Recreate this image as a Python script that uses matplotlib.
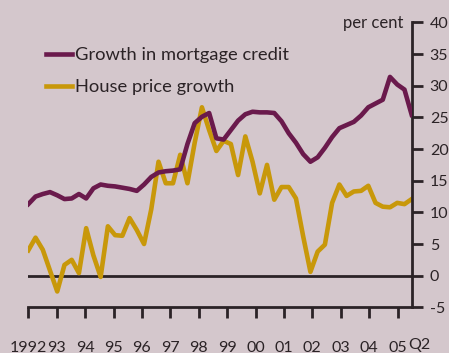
import matplotlib
matplotlib.use('Agg')
import matplotlib.pyplot as plt
import numpy as np

plt.rcParams['font.family'] = ['Lato', 'DejaVu Sans']
plt.rcParams['axes.unicode_minus'] = False

# quarterly, 1992 Q1 to 2005 Q2, per cent
mortgage_credit = [11.3, 12.5, 12.9, 13.2, 12.7, 12.1, 12.2, 12.9, 12.2, 13.8,
                   14.4, 14.2, 14.1, 13.9, 13.7, 13.4, 14.4, 15.6, 16.3, 16.5,
                   16.6, 16.8, 20.8, 24.1, 25.1, 25.7, 21.7, 21.5, 23.0, 24.5,
                   25.5, 25.9, 25.8, 25.8, 25.7, 24.4, 22.5, 21.0, 19.2, 18.0,
                   18.7, 20.2, 21.9, 23.3, 23.8, 24.3, 25.3, 26.6, 27.2, 27.8,
                   31.4, 30.2, 29.4, 25.4]
house_price = [4.0, 6.0, 4.1, 0.8, -2.5, 1.7, 2.5, 0.4, 7.5, 3.2,
               -0.2, 7.8, 6.4, 6.3, 9.1, 7.2, 5.0, 10.5, 18.0, 14.6,
               14.6, 19.1, 14.6, 21.0, 26.6, 23.0, 19.7, 21.3, 20.8, 15.9,
               22.0, 18.0, 13.0, 17.5, 12.0, 14.0, 14.0, 12.2, 6.2, 0.6,
               3.8, 4.9, 11.5, 14.4, 12.6, 13.3, 13.4, 14.2, 11.5, 10.9,
               10.8, 11.5, 11.3, 12.1]
years = list(range(1992, 2006))
year_labels = ['1992', '93', '94', '95', '96', '97', '98', '99', '00', '01',
               '02', '03', '04', '05']

bg = '#d4c7cc'
dark = '#2b2326'
purple = '#6a1a4c'
gold = '#c8980a'

x = np.linspace(1992, 2005.5, len(mortgage_credit))

fig = plt.figure(figsize=(4.49, 3.53), dpi=100, facecolor=bg)
ax = fig.add_axes([28.3 / 449, 1 - 307.3 / 353, 383.4 / 449, 284.8 / 353])
ax.set_facecolor(bg)

ax.axhline(0, color=dark, lw=2, zorder=1)
ax.plot(x, mortgage_credit, color=purple, lw=3.3, label='Growth in mortgage credit', zorder=3)
ax.plot(x, house_price, color=gold, lw=3.3, label='House price growth', zorder=2)

ax.set_xlim(1992, 2005.5)
ax.set_ylim(-5, 40)
for s in ['left', 'top']:
    ax.spines[s].set_visible(False)
for s in ['bottom', 'right']:
    ax.spines[s].set_color(dark)
    ax.spines[s].set_linewidth(2)

ax.yaxis.tick_right()
ax.set_yticks(range(-5, 41, 5))
ax.set_xticks(years)
ax.set_xticklabels(year_labels)
ax.tick_params(axis='y', direction='out', length=8, width=2, color=dark,
               labelsize=11.5, labelcolor=dark, pad=5)
ax.tick_params(axis='x', direction='out', length=8, width=2, color=dark,
               labelsize=11.5, labelcolor=dark, pad=16)

ax.text(2005.76, -10.95, 'Q2', fontsize=11.5, color=dark, ha='center', va='center', clip_on=False)
ax.text(2005.19, 39.9, 'per cent', fontsize=12, color=dark, ha='right', va='center')

leg = ax.legend(loc='upper left', bbox_to_anchor=(45.7 / 449, 1 - 47 / 353),
                bbox_transform=fig.transFigure, frameon=False, fontsize=13.2,
                handlelength=1.45, handletextpad=0.15, labelspacing=0.88,
                borderpad=0, borderaxespad=0)
for t in leg.get_texts():
    t.set_color(dark)

plt.savefig('out.png', dpi=100, facecolor=bg)
